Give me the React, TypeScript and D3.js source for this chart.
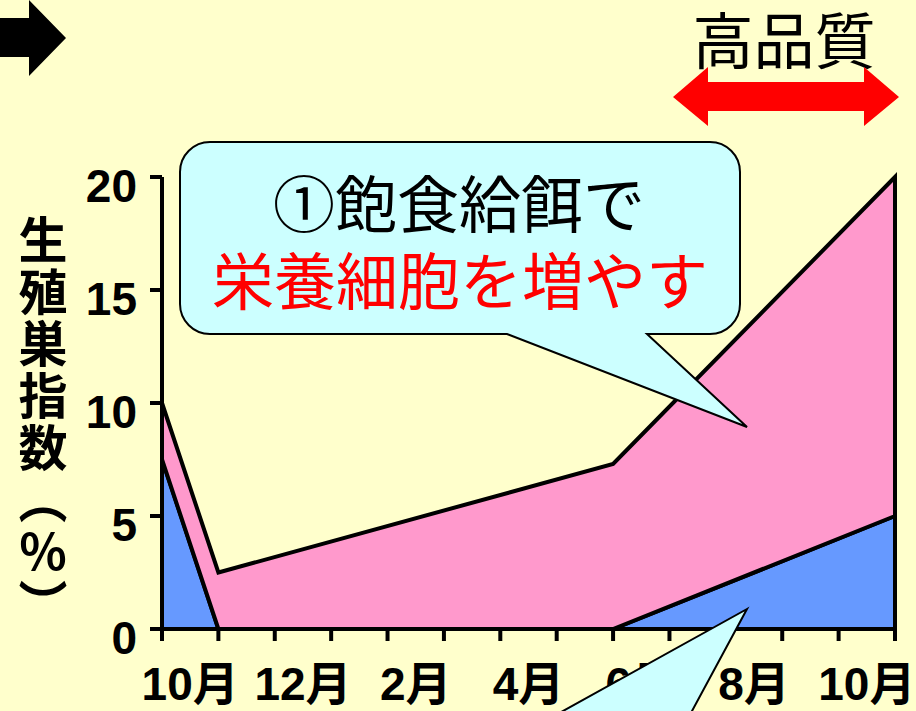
import React from "react";
import * as d3 from "d3";

// ---- data ----
const categories = ["10月", "11月", "12月", "1月", "2月", "3月", "4月", "5月", "6月", "7月", "8月", "9月", "10月"];
const labelEvery = 2;
const yTicks = [0, 5, 10, 15, 20];
// observations at category boundaries (index 0..13)
const pointPos = [0, 1, 8, 13];
const seriesBlue = [7.5, 0, 0, 5];
const seriesPink = [2.5, 2.5, 7.3, 15];
const yTitle = "生殖巣指数（％）";
const calloutLine1 = "①飽食給餌で";
const calloutLine2 = "栄養細胞を増やす";
const qualityLabel = "高品質";

const W = 916;
const H = 711;
const BG = "#FFFFCC";
const PINK = "#FF99CC";
const BLUE = "#6699FF";
const CYAN = "#CCFFFF";
const CJK = "'Noto Sans CJK JP', sans-serif";
const NUM = "'Liberation Sans', 'Noto Sans CJK JP', sans-serif";

export default function App() {
  const x = d3.scaleLinear().domain([0, categories.length]).range([162, 895]);
  const y = d3.scaleLinear().domain([0, 20]).range([629, 177]);

  const rows = pointPos.map((p, i) => ({ p, blue: seriesBlue[i], pink: seriesPink[i] }));
  const stacked = d3.stack<any>().keys(["blue", "pink"])(rows);
  const area = d3
    .area<any>()
    .x((d) => x(d.data.p))
    .y0((d) => y(d[0]))
    .y1((d) => y(d[1]));
  const fills = [BLUE, PINK];

  // callout shape (top)
  const cx0 = 180, cx1 = 740, cy0 = 142, cy1 = 334, r = 30;
  const calloutPath = [
    `M${cx0 + r},${cy0}`,
    `L${cx1 - r},${cy0}`,
    `A${r},${r} 0 0 1 ${cx1},${cy0 + r}`,
    `L${cx1},${cy1 - r}`,
    `A${r},${r} 0 0 1 ${cx1 - r},${cy1}`,
    `L647,${cy1}`,
    `L747,427`,
    `L507,${cy1}`,
    `L${cx0 + r},${cy1}`,
    `A${r},${r} 0 0 1 ${cx0},${cy1 - r}`,
    `L${cx0},${cy0 + r}`,
    `A${r},${r} 0 0 1 ${cx0 + r},${cy0}`,
    "Z",
  ].join(" ");

  // bottom callout tail (body is off-canvas)
  const tip = [747, 609];
  const extendTo = (px: number, py: number, ty: number) => {
    const t = (ty - tip[1]) / (py - tip[1]);
    return [tip[0] + (px - tip[0]) * t, ty];
  };
  const l = extendTo(563, 711, 760);
  const rr = extendTo(692, 711, 760);
  const tail2 = `M${tip[0]},${tip[1]} L${l[0]},${l[1]} L${rr[0]},${rr[1]} Z`;

  return (
    <svg
      width={W}
      height={H}
      style={{ position: "absolute", left: 0, top: 0, display: "block" }}
    >
      <rect x={0} y={0} width={W} height={H} fill={BG} />

      {/* black arrow top-left */}
      <path d="M0,18 L29,18 L29,0 L66,38 L29,76 L29,57 L0,57 Z" fill="#000" />

      {/* 高品質 + red double arrow */}
      <text x={784} y={64} textAnchor="middle" fontFamily={CJK} fontSize={61} fill="#000">
        {qualityLabel}
      </text>
      <path
        d="M673,97 L708,67 L708,82 L864,82 L864,67 L899,97 L864,126 L864,111 L708,111 L708,126 Z"
        fill="#FF0000"
      />

      {/* areas */}
      {stacked.map((s, i) => (
        <path
          key={i}
          d={area(s as any) || ""}
          fill={fills[i]}
          stroke="#000"
          strokeWidth={4}
          strokeLinejoin="miter"
        />
      ))}

      {/* y axis */}
      <line x1={162} x2={162} y1={y(20)} y2={y(0)} stroke="#000" strokeWidth={4} />
      {yTicks.map((t) => (
        <g key={t}>
          <line x1={150} x2={162} y1={y(t)} y2={y(t)} stroke="#000" strokeWidth={4} />
          <text
            x={137}
            y={y(t) + 25}
            textAnchor="end"
            fontFamily={NUM}
            fontWeight="bold"
            fontSize={46}
            fill="#000"
          >
            {t}
          </text>
        </g>
      ))}

      {/* x axis */}
      <line x1={x(0) - 2} x2={x(categories.length) + 2} y1={629} y2={629} stroke="#000" strokeWidth={4} />
      {d3.range(categories.length + 1).map((i) => (
        <line key={i} x1={x(i)} x2={x(i)} y1={629} y2={641} stroke="#000" strokeWidth={4} />
      ))}
      {categories.map((c, i) =>
        i % labelEvery === 0 ? (
          <text
            key={i}
            x={x(i + 0.5)}
            y={700}
            textAnchor="middle"
            fontFamily={NUM}
            fontWeight="bold"
            fontSize={46}
            fill="#000"
          >
            {c}
          </text>
        ) : null
      )}

      {/* y title (vertical) */}
      <text
        x={43}
        y={215}
        fontFamily={CJK}
        fontWeight="bold"
        fontSize={49}
        fill="#000"
        style={{ writingMode: "vertical-rl", textOrientation: "upright", letterSpacing: "3px" } as any}
      >
        {yTitle}
      </text>

      {/* callouts */}
      <path d={calloutPath} fill={CYAN} stroke="#000" strokeWidth={2} strokeLinejoin="miter" />
      <text textAnchor="middle" fontFamily={CJK} fontSize={62}>
        <tspan x={459} y={228} fill="#000">
          {calloutLine1}
        </tspan>
        <tspan x={460} y={305} fill="#FF0000">
          {calloutLine2}
        </tspan>
      </text>
      <path d={tail2} fill={CYAN} stroke="#000" strokeWidth={2} />
    </svg>
  );
}
